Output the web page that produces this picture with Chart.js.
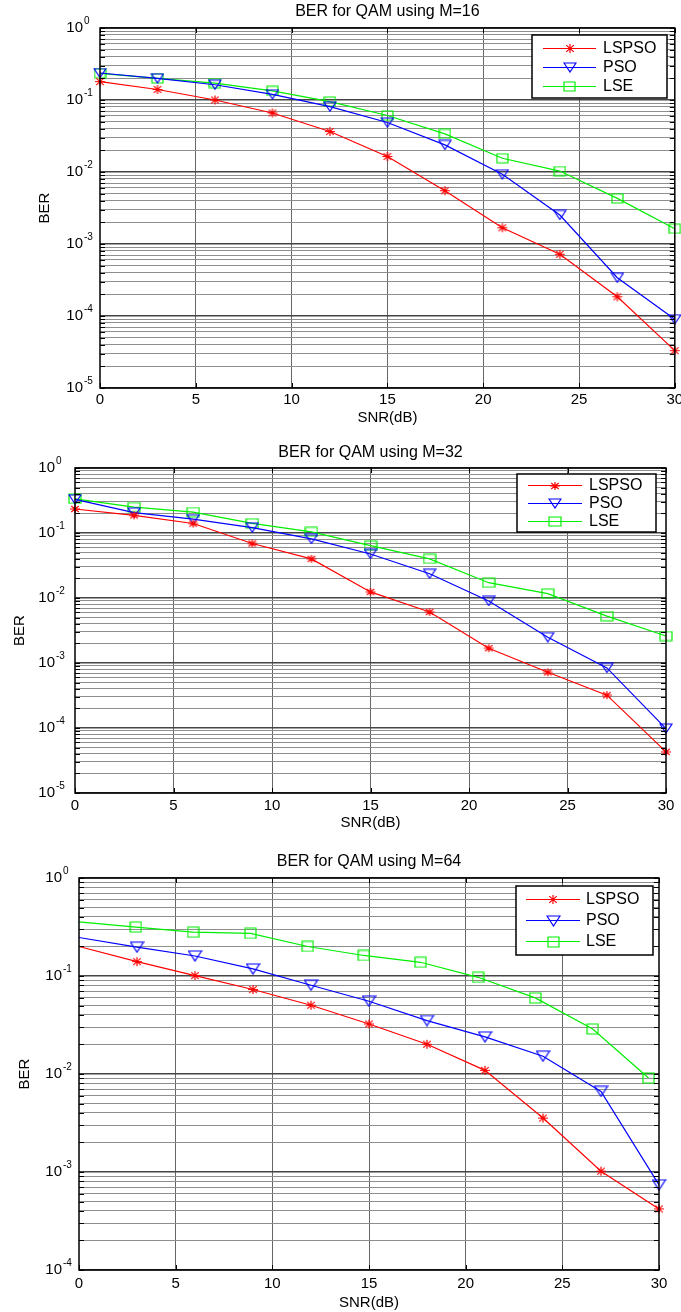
<!DOCTYPE html>
<html>
<head>
<meta charset="utf-8">
<script src="https://cdn.jsdelivr.net/npm/chart.js@4/dist/chart.umd.min.js"></script>
<style>
  html, body { margin: 0; padding: 0; background: #fff; overflow: hidden; }
  canvas { position: absolute; left: 0; }
</style>
</head>
<body>
<canvas id="ber16" width="681" height="440" style="top:0px"></canvas>
<canvas id="ber32" width="681" height="400" style="top:440px"></canvas>
<canvas id="ber64" width="681" height="472" style="top:840px"></canvas>
<script>
// values
const snr = [0, 3, 6, 9, 12, 15, 18, 21, 24, 27, 30];
const seriesNames = ['LSPSO', 'PSO', 'LSE'];
const chartTitles = ['BER for QAM using M=16', 'BER for QAM using M=32', 'BER for QAM using M=64'];
const xTicks = [0, 5, 10, 15, 20, 25, 30];
const yDecades16 = [0, -1, -2, -3, -4, -5];
const yDecades32 = [0, -1, -2, -3, -4, -5];
const yDecades64 = [0, -1, -2, -3, -4];

// M = 16
const m16Lspso = [0.18, 0.14, 0.10, 0.066, 0.0365, 0.0164, 0.0055, 0.00168, 0.00072, 0.000185, 0.000033];
const m16Pso = [0.237, 0.20, 0.163, 0.12, 0.081, 0.0487, 0.0238, 0.0093, 0.00253, 0.00034, 0.00009];
const m16Lse = [0.235, 0.20, 0.172, 0.134, 0.095, 0.061, 0.0338, 0.0155, 0.0103, 0.0043, 0.00163];

// M = 32
const m32Lspso = [0.234, 0.187, 0.14, 0.069, 0.040, 0.0124, 0.0061, 0.00169, 0.00072, 0.00032, 0.000043];
const m32Pso = [0.33, 0.206, 0.163, 0.121, 0.081, 0.0476, 0.0236, 0.0090, 0.00249, 0.00084, 0.000098];
const m32Lse = [0.335, 0.25, 0.21, 0.141, 0.104, 0.0638, 0.040, 0.0172, 0.0117, 0.00526, 0.0026];

// M = 64 (LSE markers sit slightly left of the others)
const m64Lspso = [0.20, 0.14, 0.101, 0.0728, 0.0503, 0.0324, 0.0201, 0.0109, 0.00355, 0.00102, 0.00042];
const m64Pso = [0.247, 0.197, 0.16, 0.118, 0.0805, 0.0553, 0.0351, 0.0239, 0.0152, 0.00665, 0.00074];
const snr64Lse = [0, 2.94, 5.9, 8.87, 11.83, 14.73, 17.67, 20.64, 23.6, 26.57, 29.46];
const m64Lse = [0.356, 0.316, 0.28, 0.272, 0.20, 0.162, 0.138, 0.097, 0.0598, 0.0288, 0.0091];

const RED = '#ff0000', BLUE = '#0000ff', GREEN = '#00ee00';
const FONT = 'Arial, "Liberation Sans", sans-serif';

// MATLAB markers come out a bit wider than tall in the picture
function marker(kind, color, w, h) {
  const c = document.createElement('canvas');
  c.width = w + 2;
  c.height = h + 2;
  const g = c.getContext('2d');
  g.strokeStyle = color;
  g.lineWidth = 1.2;
  g.beginPath();
  const cx = (w + 2) / 2, cy = (h + 2) / 2;
  if (kind === 'sq') {
    g.rect(1, 1, w, h);
  } else if (kind === 'tri') {
    g.moveTo(1, 1);
    g.lineTo(w + 1, 1);
    g.lineTo(cx, h + 1);
    g.closePath();
  } else {
    g.moveTo(1, cy); g.lineTo(w + 1, cy);
    g.moveTo(cx, 1); g.lineTo(cx, h + 1);
    const dx = w / 2 * 0.75, dy = h / 2 * 0.75;
    g.moveTo(cx - dx, cy - dy); g.lineTo(cx + dx, cy + dy);
    g.moveTo(cx - dx, cy + dy); g.lineTo(cx + dx, cy - dy);
  }
  g.stroke();
  return c;
}

const berPlot = {
  id: 'berPlot',
  afterDatasetsDraw(chart, args, o) {
    const ctx = chart.ctx, a = chart.chartArea;
    const xs = chart.scales.x, ys = chart.scales.y;
    ctx.save();
    // inward tick marks, like MATLAB
    ctx.strokeStyle = '#000';
    ctx.lineWidth = 1;
    ctx.beginPath();
    ys.ticks.forEach(t => {
      const py = Math.round(ys.getPixelForValue(t.value)) + 0.5;
      ctx.moveTo(a.left, py); ctx.lineTo(a.left + 5, py);
      ctx.moveTo(a.right, py); ctx.lineTo(a.right - 5, py);
    });
    xs.ticks.forEach(t => {
      const px = Math.round(xs.getPixelForValue(t.value)) + 0.5;
      ctx.moveTo(px, a.top); ctx.lineTo(px, a.top + 5);
      ctx.moveTo(px, a.bottom); ctx.lineTo(px, a.bottom - 5);
    });
    ctx.stroke();
    ctx.lineWidth = 1.5;
    ctx.strokeRect(a.left, a.top, a.right - a.left, a.bottom - a.top);
    ctx.restore();
  },
  afterDraw(chart, args, o) {
    const ctx = chart.ctx, a = chart.chartArea;
    const ys = chart.scales.y;
    ctx.save();
    ctx.fillStyle = '#000';
    // title
    ctx.font = '16px ' + FONT;
    ctx.textAlign = 'center';
    ctx.textBaseline = 'middle';
    ctx.fillText(o.title, (a.left + a.right) / 2, o.titleY);
    // 10^n tick labels
    o.decades.forEach(p => {
      const py = ys.getPixelForValue(Math.pow(10, p));
      const xr = a.left - o.labelGap;
      ctx.font = '15px ' + FONT;
      ctx.textAlign = 'right';
      ctx.fillText('10', xr, py);
      ctx.font = '10px ' + FONT;
      ctx.textAlign = 'left';
      ctx.fillText(p === 0 ? '0' : '-' + (-p), xr + 1, py - 7);
    });
    // legend box
    const lg = o.legend;
    ctx.fillStyle = '#fff';
    ctx.fillRect(lg.x, lg.y, lg.w, lg.h);
    ctx.strokeStyle = '#000';
    ctx.lineWidth = 1.5;
    ctx.strokeRect(lg.x, lg.y, lg.w, lg.h);
    chart.data.datasets.forEach((ds, i) => {
      const ry = lg.rows[i];
      ctx.strokeStyle = ds.borderColor;
      ctx.lineWidth = 1.2;
      ctx.beginPath();
      ctx.moveTo(lg.line[0], ry + 0.5);
      ctx.lineTo(lg.line[1], ry + 0.5);
      ctx.stroke();
      const img = ds.pointStyle;
      ctx.drawImage(img, Math.round((lg.line[0] + lg.line[1] - img.width) / 2), Math.round(ry + 0.5 - img.height / 2));
      ctx.fillStyle = '#000';
      ctx.font = '16px ' + FONT;
      ctx.textAlign = 'left';
      ctx.textBaseline = 'middle';
      ctx.fillText(ds.label, lg.textX, ry + 1);
    });
    ctx.restore();
  }
};

function isDecade(v) {
  const l = Math.log10(v);
  return Math.abs(l - Math.round(l)) < 1e-9;
}

function berChart(f) {
  const W = 681;
  const mk = f.marks;
  const ds = (name, xs, ys, color, style, first) => ({
    label: name,
    data: xs.map((x, i) => ({x: x, y: ys[i]})),
    borderColor: color,
    borderWidth: 1.2,
    pointStyle: style,
    pointRadius: xs.map((x, i) => (i === 0 && !first) ? 0 : 5),
    pointBorderColor: color,
    tension: 0,
    fill: false,
    clip: false
  });
  return new Chart(document.getElementById(f.id), {
    type: 'line',
    data: {
      datasets: [
        ds(seriesNames[0], f.snr[0], f.ber[0], RED, marker('star', RED, mk.star[0], mk.star[1]), f.firstMarker),
        ds(seriesNames[1], f.snr[1], f.ber[1], BLUE, marker('tri', BLUE, mk.tri[0], mk.tri[1]), f.firstMarker),
        ds(seriesNames[2], f.snr[2], f.ber[2], GREEN, marker('sq', GREEN, mk.sq[0], mk.sq[1]), f.firstMarker)
      ]
    },
    options: {
      responsive: false,
      animation: false,
      events: [],
      layout: { padding: { top: f.top, right: W - f.right, left: 0, bottom: 0 } },
      plugins: {
        legend: { display: false },
        title: { display: false },
        tooltip: { enabled: false },
        berPlot: {
          title: f.title, titleY: f.titleY, decades: f.decades,
          labelGap: f.labelGap, legend: f.legend
        }
      },
      scales: {
        x: {
          type: 'linear',
          min: 0,
          max: 30,
          afterBuildTicks: s => { s.ticks = xTicks.map(v => ({value: v})); },
          afterFit: s => { s.height = f.height - f.bottom; s.paddingLeft = 0; s.paddingRight = 0; },
          ticks: { color: '#000', font: { family: FONT, size: 15 }, padding: f.tickPad, maxRotation: 0, autoSkip: false },
          grid: {
            drawTicks: false,
            lineWidth: 1,
            color: c => (c.tick && (c.tick.value === 0 || c.tick.value === 30)) ? 'rgba(0,0,0,0)' : '#666666'
          },
          border: { display: false },
          title: {
            display: true, text: 'SNR(dB)', color: '#000',
            font: { family: FONT, size: 15 },
            padding: { top: 0, bottom: f.height - f.snrY - 9 }
          }
        },
        y: {
          type: 'logarithmic',
          min: Math.pow(10, f.decades[f.decades.length - 1]),
          max: 1,
          afterBuildTicks: s => {
            const t = [];
            for (let p = f.decades[f.decades.length - 1]; p <= 0; p++) {
              for (let m = 1; m <= 9; m++) {
                const v = m * Math.pow(10, p);
                if (v <= 1.0000001) t.push({value: v});
              }
            }
            s.ticks = t;
          },
          afterFit: s => { s.width = f.left; s.paddingTop = 0; s.paddingBottom = 0; },
          ticks: { display: false },
          grid: {
            drawTicks: false,
            color: c => (c.tick && isDecade(c.tick.value)) ? '#444444' : '#8e8e8e',
            lineWidth: c => (c.tick && isDecade(c.tick.value)) ? 1.5 : 1
          },
          border: { display: false },
          title: {
            display: true, text: 'BER', color: '#000',
            font: { family: FONT, size: 15 },
            padding: { top: f.berX - 9, bottom: 0 }
          }
        }
      }
    },
    plugins: [berPlot]
  });
}

berChart({
  id: 'ber16', title: chartTitles[0], decades: yDecades16,
  snr: [snr, snr, snr], ber: [m16Lspso, m16Pso, m16Lse], firstMarker: true,
  height: 440, left: 100, right: 676, top: 28, bottom: 388,
  titleY: 12, labelGap: 17, berX: 45, snrY: 418, tickPad: 3,
  legend: { x: 532, y: 35, w: 135, h: 63, rows: [48, 67, 86], line: [543, 596], textX: 603 },
  marks: { star: [10, 9], tri: [12, 9], sq: [11, 9] }
});

berChart({
  id: 'ber32', title: chartTitles[1], decades: yDecades32,
  snr: [snr, snr, snr], ber: [m32Lspso, m32Pso, m32Lse], firstMarker: true,
  height: 400, left: 75, right: 666, top: 28, bottom: 353,
  titleY: 13, labelGap: 20, berX: 20, snrY: 383, tickPad: 4,
  legend: { x: 517, y: 34, w: 139, h: 58, rows: [45, 63, 81], line: [528, 582], textX: 589 },
  marks: { star: [10, 8], tri: [12, 9], sq: [12, 9] }
});

berChart({
  id: 'ber64', title: chartTitles[2], decades: yDecades64,
  snr: [snr, snr, snr64Lse], ber: [m64Lspso, m64Pso, m64Lse], firstMarker: false,
  height: 472, left: 79, right: 659, top: 38, bottom: 430,
  titleY: 22, labelGap: 17, berX: 25, snrY: 463, tickPad: 5,
  legend: { x: 516, y: 46, w: 137, h: 69, rows: [59, 80, 101], line: [526, 580], textX: 586 },
  marks: { star: [10, 9], tri: [13, 10], sq: [11, 10] }
});
</script>
</body>
</html>
